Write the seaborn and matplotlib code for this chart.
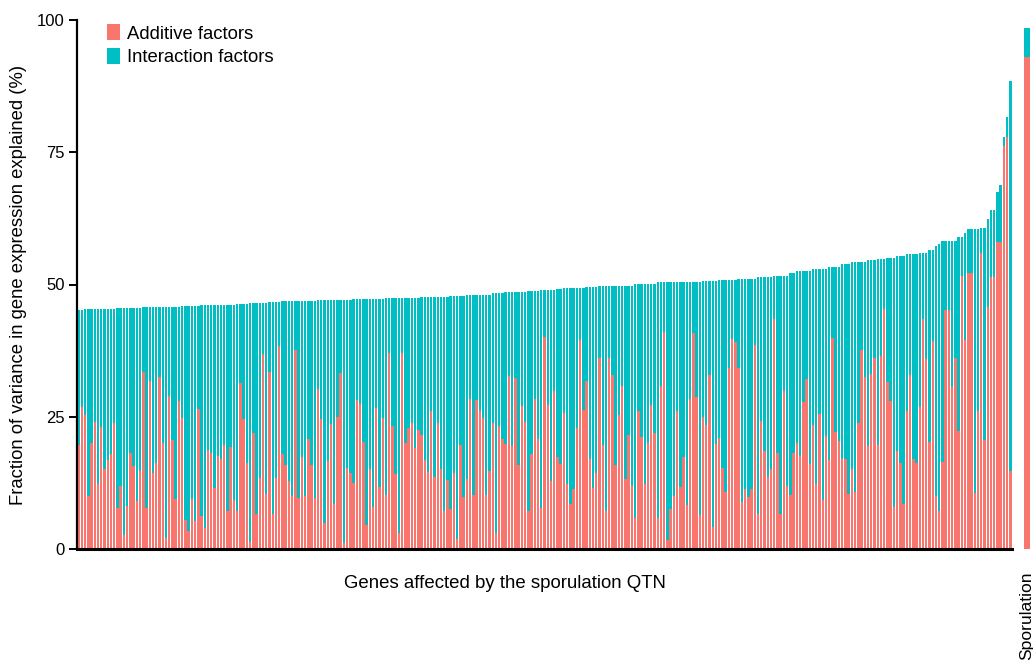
import matplotlib
matplotlib.use("Agg")
import matplotlib.pyplot as plt
from matplotlib.patches import Patch
import seaborn as sns
import pandas as pd

# ---- data ----
additive = [
    19.7, 26.8, 25.3, 10.1, 20.0, 24.1, 12.3, 23.0, 15.1, 16.8, 18.0, 23.8, 7.8, 11.9, 2.6, 8.2,
    18.1, 15.6, 9.1, 14.7, 33.5, 7.8, 31.8, 14.4, 16.2, 32.6, 20.1, 2.0, 29.0, 20.6, 9.5, 28.0,
    24.7, 5.4, 3.4, 9.4, 5.2, 26.5, 6.3, 3.9, 18.8, 18.1, 11.6, 17.6, 17.0, 19.7, 7.1, 19.2, 9.3,
    7.2, 31.3, 24.6, 16.2, 1.4, 22.0, 6.7, 13.5, 36.9, 10.4, 33.5, 6.7, 13.5, 38.4, 18.0, 15.9,
    12.9, 10.0, 37.7, 9.7, 17.3, 10.0, 20.7, 15.9, 9.7, 30.2, 24.6, 4.9, 16.7, 23.6, 8.5, 24.9,
    33.3, 1.1, 15.4, 14.3, 12.5, 28.2, 27.5, 20.3, 4.5, 15.1, 7.9, 26.7, 11.7, 24.8, 10.2, 37.0,
    23.3, 14.2,
    3.0, 37.0, 20.1, 22.9, 23.8, 19.0, 22.5, 21.5, 16.8, 14.6, 26.1, 13.7, 23.8, 15.2, 7.1, 13.0,
    7.5, 14.4, 1.9, 19.7, 9.8, 13.2, 28.3, 10.2, 28.2, 26.1, 24.7, 10.2, 14.8, 23.8, 3.0, 23.3,
    20.7, 19.8, 32.7, 19.5, 32.4, 15.9, 27.0, 24.1, 7.1, 18.0, 28.3, 20.7, 7.7, 40.0, 27.2, 12.9,
    29.9,
    17.3, 16.1, 25.8, 12.2, 8.5, 11.3, 22.8, 39.6, 26.3, 31.8, 17.0, 11.6, 14.3, 36.2, 19.7, 7.2,
    36.2, 32.9, 15.8, 25.3, 30.9, 13.2, 21.6, 12.0, 5.9, 26.0, 21.1, 12.2, 20.0, 27.2, 22.0, 5.9,
    30.9, 41.1, 1.7, 7.6, 10.0, 26.1, 11.7, 17.3, 8.4, 28.3, 40.9, 28.8, 6.4, 24.9, 23.4, 32.9,
    4.1, 19.8,
    20.9, 15.4, 10.8, 34.2, 39.7, 39.1, 34.2, 8.9, 11.3, 9.8, 11.3, 38.6, 6.7, 24.2, 18.5, 13.7,
    15.1, 43.5, 18.1, 6.7, 29.9, 12.0, 10.3, 18.1, 20.1, 17.6, 27.7, 32.1, 16.1, 23.4, 12.3, 25.5,
    9.3, 21.4, 16.8, 39.9, 22.2, 20.5, 17.0, 17.0, 10.4, 15.1, 10.8, 23.9, 37.7, 32.5, 19.5, 33.0,
    36.2,
    19.7, 36.5, 45.3, 31.5, 27.9, 7.9, 18.5, 16.2, 8.6, 26.1, 32.9, 17.1, 16.2, 26.8, 43.5, 35.9,
    20.3, 39.3, 10.0, 7.2, 16.4, 45.1, 45.1, 30.6, 36.2, 22.4, 51.6, 39.6, 52.2, 52.2, 10.5, 26.0,
    56.0, 20.6, 45.7, 51.4, 51.4, 58.1, 58.1, 76.2, 77.8, 14.8,
]

total = [
    45.2, 45.2, 45.3, 45.3, 45.3, 45.3, 45.4, 45.4, 45.4, 45.4, 45.4, 45.4, 45.6, 45.6, 45.6, 45.6,
    45.6, 45.6, 45.6, 45.6, 45.7, 45.7, 45.7, 45.7, 45.7, 45.7, 45.7, 45.8, 45.8, 45.8, 45.8, 45.8,
    45.9, 45.9, 45.9, 45.9, 45.9, 45.9, 46.1, 46.1, 46.1, 46.1, 46.1, 46.2, 46.2, 46.2, 46.2, 46.2,
    46.2,
    46.3, 46.3, 46.3, 46.3, 46.5, 46.5, 46.5, 46.5, 46.5, 46.5, 46.6, 46.6, 46.6, 46.6, 46.8, 46.8,
    46.8, 46.8, 46.8, 46.8, 46.8, 46.9, 46.9, 46.9, 46.9, 47.0, 47.0, 47.0, 47.0, 47.0, 47.1, 47.1,
    47.1, 47.1, 47.1, 47.1, 47.2, 47.2, 47.2, 47.2, 47.2, 47.2, 47.2, 47.3, 47.3, 47.3, 47.4, 47.4,
    47.4, 47.4,
    47.4, 47.4, 47.5, 47.5, 47.5, 47.5, 47.5, 47.7, 47.7, 47.7, 47.7, 47.7, 47.7, 47.7, 47.7, 47.7,
    47.9, 47.9, 47.9, 47.9, 47.9, 48.1, 48.1, 48.1, 48.1, 48.1, 48.1, 48.1, 48.1, 48.3, 48.3, 48.3,
    48.3, 48.6, 48.6, 48.6, 48.6, 48.6, 48.6, 48.6, 48.8, 48.8, 48.8, 48.8, 49.0, 49.0, 49.0, 49.0,
    49.0,
    49.1, 49.1, 49.3, 49.3, 49.3, 49.3, 49.3, 49.3, 49.3, 49.5, 49.5, 49.5, 49.5, 49.7, 49.7, 49.7,
    49.7, 49.7, 49.7, 49.7, 49.8, 49.8, 49.8, 49.8, 50.1, 50.1, 50.1, 50.1, 50.1, 50.1, 50.1, 50.4,
    50.4, 50.4, 50.4, 50.5, 50.5, 50.5, 50.5, 50.5, 50.5, 50.5, 50.5, 50.5, 50.5, 50.7, 50.7, 50.7,
    50.7, 50.7,
    50.9, 50.9, 50.9, 50.9, 50.9, 50.9, 51.1, 51.1, 51.1, 51.1, 51.1, 51.1, 51.4, 51.4, 51.4, 51.4,
    51.4, 51.7, 51.7, 51.7, 51.7, 51.7, 52.1, 52.1, 52.6, 52.6, 52.6, 52.6, 52.6, 52.9, 52.9, 52.9,
    52.9, 52.9, 53.3, 53.3, 53.3, 53.3, 53.8, 53.8, 53.8, 54.3, 54.3, 54.3, 54.3, 54.3, 54.6, 54.6,
    54.6,
    54.8, 54.8, 54.8, 55.0, 55.0, 55.0, 55.4, 55.4, 55.4, 55.8, 55.8, 55.8, 55.8, 56.0, 56.0, 56.0,
    56.5, 56.5, 57.2, 57.7, 58.3, 58.3, 58.3, 58.3, 58.3, 58.9, 58.9, 59.8, 60.4, 60.4, 60.4, 60.4,
    60.6, 60.6, 62.3, 64.1, 64.1, 67.4, 68.8, 77.8, 81.6, 88.5,
]

spor_label = ["Sporulation"]
spor_additive = [93.0]
spor_total = [98.5]

yticks = [0, 25, 50, 75, 100]
legend_labels = ["Additive factors", "Interaction factors"]
xlabel = "Genes affected by the sporulation QTN"
ylabel = "Fraction of variance in gene expression explained (%)"

RED = "#F8766D"
TEAL = "#00BFC4"

sns.set_style("white")
plt.rcParams["font.family"] = ["Liberation Sans", "DejaVu Sans"]
plt.rcParams["text.color"] = "black"
plt.rcParams["axes.labelcolor"] = "black"
plt.rcParams["xtick.color"] = "black"
plt.rcParams["ytick.color"] = "black"

genes = [f"g{i:03d}" for i in range(len(total))]
df = pd.DataFrame({"gene": genes, "total": total, "additive": additive})
dfs = pd.DataFrame({"trait": spor_label, "total": spor_total, "additive": spor_additive})

W, H = 1033, 670
fig = plt.figure(figsize=(W / 100, H / 100), dpi=100)

ax = fig.add_axes([77 / W, (H - 549) / H, (1012 - 77) / W, (549 - 20) / H])
sns.barplot(data=df, x="gene", y="total", color=TEAL, saturation=1, width=0.76,
            errorbar=None, ax=ax, order=genes, linewidth=0)
sns.barplot(data=df, x="gene", y="additive", color=RED, saturation=1, width=0.76,
            errorbar=None, ax=ax, order=genes, linewidth=0)
ax.set_xlim(-0.5, len(genes) - 0.5)
ax.set_ylim(0, 100)
ax.set_yticks(yticks)
ax.set_yticklabels([str(t) for t in yticks], fontsize=12, color="black")
ax.set_xticks([])
ax.set_xlabel("")
ax.set_ylabel(ylabel, fontsize=13.3, color="black", labelpad=7)
for s in ["top", "right"]:
    ax.spines[s].set_visible(False)
ax.spines["left"].set_color("black")
ax.spines["left"].set_linewidth(1.6)
ax.spines["bottom"].set_color("black")
ax.spines["bottom"].set_linewidth(2.2)
ax.tick_params(axis="y", direction="out", length=6, width=1.4, color="black", pad=3, left=True)

handles = [Patch(facecolor=RED, edgecolor="none"), Patch(facecolor=TEAL, edgecolor="none")]
ax.legend(handles, legend_labels, loc="upper left", bbox_to_anchor=(0.0245, 1.006), frameon=False,
          fontsize=13.3, handlelength=0.7, handleheight=0.95, handletextpad=0.35, labelspacing=0.28,
          borderaxespad=0)

fig.text(505 / W, 1 - 583 / H, xlabel, ha="center", va="center", fontsize=13.4, color="black")

ax2 = fig.add_axes([1021 / W, (H - 549) / H, 12 / W, (549 - 20) / H])
sns.barplot(data=dfs, x="trait", y="total", color=TEAL, saturation=1, width=0.55,
            errorbar=None, ax=ax2, linewidth=0)
sns.barplot(data=dfs, x="trait", y="additive", color=RED, saturation=1, width=0.55,
            errorbar=None, ax=ax2, linewidth=0)
ax2.set_xlim(-0.5, 0.5)
ax2.set_ylim(0, 100)
ax2.set_yticks([])
ax2.set_xlabel("")
ax2.set_ylabel("")
for s in ax2.spines.values():
    s.set_visible(False)
ax2.tick_params(axis="x", length=0, pad=16)
ax2.set_xticks([0])
ax2.set_xticklabels(spor_label, rotation=90, fontsize=12.6, va="top", ha="center", color="black")

fig.savefig("out.png", dpi=100)
